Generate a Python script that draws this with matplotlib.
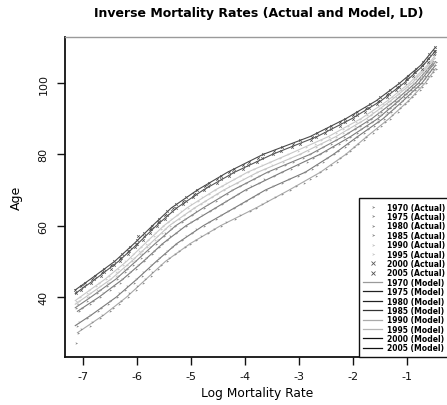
import numpy as np
import matplotlib
matplotlib.use("Agg")
import matplotlib.pyplot as plt
from matplotlib.lines import Line2D

years = [1970, 1975, 1980, 1985, 1990, 1995, 2000, 2005]

# ---- Actual log mortality rates (one value per age, starting at the given age) ----
actual_start = [27, 32, 36, 37, 38, 39, 41, 42]

actual_1970 = [-7.12, np.nan, np.nan,
    -7.08, -7.03, -6.87, -6.83, -6.68, -6.64, -6.50, -6.45, -6.33, -6.29,
    -6.17, -6.14, -6.02, -5.99, -5.88, -5.85, -5.74, -5.71, -5.60, -5.56,
    -5.45, -5.40, -5.29, -5.22, -5.10, -5.02, -4.90, -4.82, -4.68, -4.57,
    -4.44, -4.34, -4.19, -4.08, -3.91, -3.80, -3.68, -3.59, -3.44, -3.32,
    -3.17, -3.06, -2.91, -2.80, -2.68, -2.61, -2.49, -2.41, -2.30, -2.23,
    -2.12, -2.06, -1.97, -1.91, -1.80, -1.75, -1.63, -1.56, -1.47, -1.41,
    -1.32, -1.27, -1.17, -1.12, -1.03, -0.98, -0.90, -0.85, -0.76, -0.72,
    -0.65, -0.62, -0.56, -0.52, -0.46]
actual_1975 = [
    -7.11, -7.07, -6.92, -6.86, -6.72, -6.67, -6.54, -6.49, -6.36, -6.33,
    -6.21, -6.18, -6.05, -6.02, -5.91, -5.88, -5.77, -5.73, -5.63, -5.59,
    -5.48, -5.45, -5.35, -5.28, -5.16, -5.08, -4.97, -4.90, -4.76, -4.67,
    -4.53, -4.45, -4.31, -4.20, -4.07, -3.97, -3.84, -3.75, -3.61, -3.48,
    -3.31, -3.18, -3.01, -2.89, -2.75, -2.67, -2.55, -2.47, -2.35, -2.27,
    -2.15, -2.09, -1.98, -1.92, -1.79, -1.72, -1.60, -1.53, -1.43, -1.38,
    -1.29, -1.23, -1.13, -1.08, -0.98, -0.94, -0.85, -0.79, -0.71, -0.68,
    -0.61, -0.58, -0.51, -0.47]
actual_1980 = [
    -7.07, -7.01, -6.87, -6.82, -6.68, -6.62, -6.49, -6.43, -6.32, -6.28,
    -6.16, -6.12, -6.01, -5.97, -5.86, -5.83, -5.72, -5.69, -5.59, -5.54,
    -5.44, -5.39, -5.27, -5.20, -5.08, -5.00, -4.88, -4.79, -4.65, -4.55,
    -4.43, -4.35, -4.22, -4.12, -3.98, -3.88, -3.74, -3.64, -3.46, -3.32,
    -3.15, -3.01, -2.84, -2.73, -2.60, -2.50, -2.36, -2.26, -2.13, -2.05,
    -1.93, -1.85, -1.73, -1.65, -1.53, -1.47, -1.37, -1.32, -1.22, -1.16,
    -1.06, -1.01, -0.92, -0.87, -0.77, -0.73, -0.66, -0.63, -0.56, -0.53,
    -0.46]
actual_1985 = [
    -7.12, -7.08, -6.92, -6.88, -6.73, -6.69, -6.55, -6.51, -6.37, -6.34,
    -6.22, -6.19, -6.07, -6.04, -5.92, -5.90, -5.79, -5.76, -5.65, -5.61,
    -5.50, -5.47, -5.36, -5.30, -5.17, -5.10, -4.98, -4.90, -4.76, -4.68,
    -4.54, -4.46, -4.33, -4.23, -4.09, -3.98, -3.83, -3.73, -3.57, -3.43,
    -3.25, -3.11, -2.93, -2.80, -2.66, -2.56, -2.41, -2.31, -2.17, -2.08,
    -1.96, -1.87, -1.74, -1.66, -1.54, -1.47, -1.37, -1.31, -1.21, -1.14,
    -1.05, -0.99, -0.90, -0.85, -0.75, -0.72, -0.64, -0.61, -0.54, -0.51]
actual_1990 = [
    -7.11, -7.07, -6.93, -6.87, -6.74, -6.69, -6.56, -6.50, -6.38, -6.34,
    -6.23, -6.19, -6.08, -6.05, -5.94, -5.91, -5.81, -5.77, -5.67, -5.62,
    -5.53, -5.48, -5.39, -5.33, -5.21, -5.13, -5.02, -4.94, -4.82, -4.73,
    -4.60, -4.51, -4.38, -4.29, -4.14, -4.03, -3.88, -3.77, -3.63, -3.49,
    -3.30, -3.16, -2.97, -2.83, -2.68, -2.58, -2.43, -2.32, -2.18, -2.09,
    -1.96, -1.87, -1.74, -1.66, -1.54, -1.47, -1.37, -1.31, -1.20, -1.14,
    -1.04, -0.98, -0.89, -0.83, -0.74, -0.70, -0.63, -0.60, -0.52, -0.49]
actual_1995 = [
    -7.12, -7.06, -6.93, -6.88, -6.75, -6.70, -6.57, -6.52, -6.39, -6.35,
    -6.25, -6.21, -6.10, -6.07, -5.96, -5.93, -5.83, -5.80, -5.69, -5.66,
    -5.56, -5.52, -5.42, -5.37, -5.25, -5.18, -5.06, -4.99, -4.87, -4.79,
    -4.66, -4.56, -4.43, -4.34, -4.20, -4.09, -3.94, -3.83, -3.68, -3.54,
    -3.35, -3.20, -3.01, -2.86, -2.70, -2.59, -2.44, -2.32, -2.18, -2.08,
    -1.95, -1.86, -1.73, -1.64, -1.52, -1.45, -1.35, -1.28, -1.17, -1.11,
    -1.01, -0.96, -0.86, -0.81, -0.72, -0.68, -0.61, -0.58, -0.50, -0.47]
actual_2000 = [
    -7.13, -7.04, -6.97, -6.84, -6.79, -6.66, -6.61, -6.48, -6.43, -6.32,
    -6.29, -6.17, -6.14, -6.03, -6.00, -5.89, -5.87, -5.76, -5.73, -5.62,
    -5.59, -5.48, -5.45, -5.34, -5.28, -5.15, -5.09, -4.96, -4.90, -4.75,
    -4.68, -4.52, -4.45, -4.30, -4.21, -4.04, -3.94, -3.77, -3.68, -3.47,
    -3.33, -3.12, -2.98, -2.77, -2.68, -2.51, -2.41, -2.24, -2.15, -2.00,
    -1.93, -1.77, -1.70, -1.55, -1.50, -1.37, -1.33, -1.20, -1.15, -1.03,
    -0.99, -0.88, -0.84, -0.72, -0.71, -0.61, -0.60, -0.50, -0.48]
actual_2005 = [
    -7.15, -7.03, -6.96, -6.83, -6.78, -6.65, -6.60, -6.47, -6.42, -6.31,
    -6.28, -6.16, -6.13, -6.02, -5.99, -5.97, -5.86, -5.75, -5.72, -5.61,
    -5.58, -5.47, -5.44, -5.33, -5.27, -5.14, -5.08, -4.95, -4.89, -4.74,
    -4.67, -4.51, -4.44, -4.29, -4.20, -4.03, -3.93, -3.76, -3.67, -3.46,
    -3.32, -3.11, -2.97, -2.76, -2.67, -2.50, -2.40, -2.23, -2.14, -1.99,
    -1.92, -1.76, -1.69, -1.54, -1.49, -1.36, -1.32, -1.19, -1.14, -1.02,
    -0.98, -0.87, -0.83, -0.71, -0.70, -0.60, -0.59, -0.49, -0.48]

# ---- Model (fitted) curves: log mortality rate at selected ages ----
model_ages_1970 = [30, 35, 40, 45, 50, 55, 60, 65, 70, 75, 80, 85, 90, 95, 100, 104]
model_1970 = [-7.10, -6.61, -6.19, -5.83, -5.47, -5.01, -4.45, -3.79, -3.18, -2.60,
              -2.13, -1.74, -1.33, -0.97, -0.66, -0.47]
model_ages_1975 = [32, 35, 40, 45, 50, 55, 60, 65, 70, 75, 80, 85, 90, 95, 100, 105]
model_1975 = [-7.14, -6.84, -6.38, -6.00, -5.64, -5.26, -4.77, -4.19, -3.62, -2.88,
              -2.36, -1.91, -1.44, -1.07, -0.72, -0.47]
model_ages_1980 = [36, 40, 45, 50, 55, 60, 65, 70, 75, 80, 85, 90, 95, 100, 105, 106]
model_1980 = [-7.10, -6.70, -6.26, -5.88, -5.52, -5.09, -4.54, -3.99, -3.31, -2.61,
              -2.04, -1.54, -1.15, -0.78, -0.52, -0.47]
model_ages_1985 = [37, 40, 45, 50, 55, 60, 65, 70, 75, 80, 85, 90, 95, 100, 105, 106]
model_1985 = [-7.14, -6.85, -6.39, -6.02, -5.66, -5.28, -4.77, -4.22, -3.58, -2.79,
              -2.18, -1.65, -1.22, -0.84, -0.55, -0.50]
model_ages_1990 = [38, 40, 45, 50, 55, 60, 65, 70, 75, 80, 85, 90, 95, 100, 105, 107]
model_1990 = [-7.14, -6.95, -6.48, -6.10, -5.75, -5.40, -4.93, -4.39, -3.76, -2.98,
              -2.31, -1.75, -1.30, -0.90, -0.59, -0.48]
model_ages_1995 = [39, 40, 45, 50, 55, 60, 65, 70, 75, 80, 85, 90, 95, 100, 105, 108]
model_1995 = [-7.14, -7.05, -6.59, -6.19, -5.85, -5.50, -5.07, -4.55, -3.95, -3.19,
              -2.45, -1.85, -1.36, -0.95, -0.62, -0.46]
model_ages_2000 = [41, 45, 50, 55, 60, 65, 70, 75, 80, 85, 90, 95, 100, 105, 109]
model_2000 = [-7.14, -6.77, -6.34, -5.98, -5.64, -5.26, -4.77, -4.19, -3.49, -2.66,
              -2.02, -1.48, -1.05, -0.69, -0.47]
model_ages_2005 = [42, 45, 50, 55, 60, 65, 70, 75, 80, 85, 90, 95, 100, 105, 110]
model_2005 = [-7.14, -6.86, -6.41, -6.05, -5.71, -5.36, -4.88, -4.32, -3.66, -2.79,
              -2.13, -1.57, -1.13, -0.74, -0.47]

x_ticks = [-7, -6, -5, -4, -3, -2, -1]
y_ticks = [40, 60, 80, 100]

actual = [actual_1970, actual_1975, actual_1980, actual_1985,
          actual_1990, actual_1995, actual_2000, actual_2005]
model_ages = [model_ages_1970, model_ages_1975, model_ages_1980, model_ages_1985,
              model_ages_1990, model_ages_1995, model_ages_2000, model_ages_2005]
model = [model_1970, model_1975, model_1980, model_1985,
         model_1990, model_1995, model_2000, model_2005]

# styles
act_colors = ['#909090', '#909090', '#909090', '#949494', '#c8c8c8', '#cccccc', '#5a5a5a', '#505050']
act_markers = ['4', '4', '4', '4', '4', '4', 'x', 'x']
mod_colors = ['#a8a8a8', '#7a7a7a', '#7a7a7a', '#808080', '#c4c4c4', '#c8c8c8', '#555555', '#4a4a4a']
leg_mod_colors = ['#9a9a9a', '#222222', '#222222', '#333333', '#aaaaaa', '#b5b5b5', '#111111', '#111111']

plt.rcParams['font.family'] = ['DejaVu Sans']
fig = plt.figure(figsize=(4.47, 4.06), dpi=100)
ax = fig.add_axes([65 / 447, 48 / 406, (450 - 65) / 447, (358 - 38) / 406])

for i, yr in enumerate(years):
    ax.plot(model[i], model_ages[i], color=mod_colors[i], lw=0.8, zorder=2)

for i, yr in enumerate(years):
    vals = np.array(actual[i], dtype=float)
    ages = np.arange(actual_start[i], actual_start[i] + len(vals))
    ax.plot(vals, ages, linestyle='none', marker=act_markers[i], ms=1.9, mew=0.5,
            color=act_colors[i], zorder=3)

ax.set_xlim(-7.33, -0.2)
ax.set_ylim(23.2, 112.9)
ax.set_xticks(x_ticks)
ax.set_xticklabels([str(v) for v in x_ticks])
ax.set_yticks(y_ticks)
ax.set_yticklabels([str(v) for v in y_ticks], rotation=90, va='center')
ax.tick_params(axis='both', direction='out', length=6, width=1.0, labelsize=8, colors='#111111')
ax.tick_params(axis='x', pad=4)
ax.tick_params(axis='y', pad=6)
for s in ['left', 'bottom']:
    ax.spines[s].set_linewidth(1.3)
    ax.spines[s].set_color('#111111')
ax.spines['top'].set_color('#9a9a9a')
ax.spines['top'].set_linewidth(1.0)
ax.spines['right'].set_color('#111111')

ax.set_xlabel('Log Mortality Rate', fontsize=8.8, labelpad=4)
ax.set_ylabel('Age', fontsize=9, labelpad=11)
fig.text(259 / 447, 1 - 14 / 406, 'Inverse Mortality Rates (Actual and Model, LD)',
         ha='center', va='center', fontsize=9, fontweight='bold')

handles = []
labels = []
for i, yr in enumerate(years):
    handles.append(Line2D([], [], linestyle='none', marker=act_markers[i], ms=2.2, mew=0.6,
                          color=act_colors[i]))
    labels.append(f'{yr} (Actual)')
for i, yr in enumerate(years):
    handles.append(Line2D([], [], color=leg_mod_colors[i], lw=0.9))
    labels.append(f'{yr} (Model)')

leg = ax.legend(handles, labels, loc='lower right', bbox_to_anchor=(1.0, 0.0),
                borderaxespad=0.0, prop={'weight': 'bold', 'size': 5.5},
                handlelength=2.4, handletextpad=0.7, labelspacing=0.05, borderpad=0.6,
                fancybox=False, framealpha=1.0, edgecolor='#111111')
leg.get_frame().set_linewidth(1.0)

fig.savefig('out.png', dpi=100)
